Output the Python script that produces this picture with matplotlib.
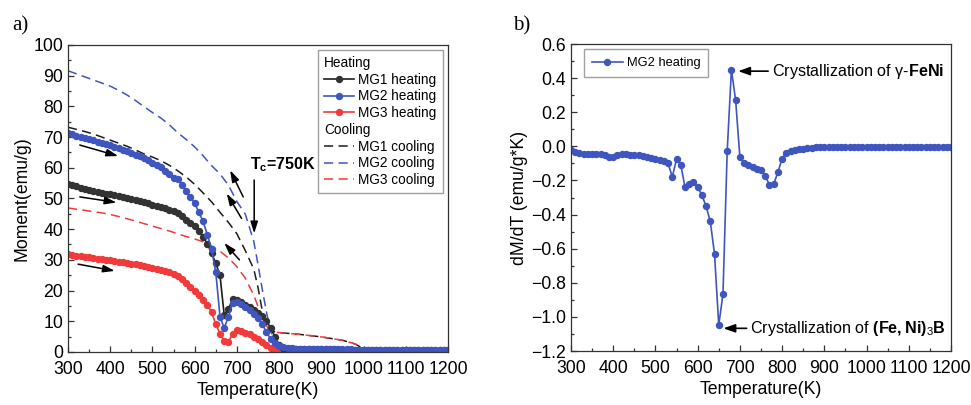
import matplotlib
matplotlib.use("Agg")
import matplotlib.pyplot as plt
from matplotlib.lines import Line2D
from matplotlib.ticker import MultipleLocator

plt.rcParams['font.family'] = ['Liberation Sans', 'DejaVu Sans']
plt.rcParams['mathtext.fontset'] = 'custom'
plt.rcParams['mathtext.rm'] = 'Liberation Sans'
plt.rcParams['mathtext.bf'] = 'Liberation Sans:bold'

# ---- data ----
# heating curves, 300..1200 K every 10 K
T_heat = list(range(300, 1201, 10))
mg1_heat = [54.8, 54.3, 53.9, 53.5, 53.1, 52.8, 52.5, 52.2, 51.9, 51.6,
            51.3, 51.0, 50.7, 50.4, 50.1, 49.8, 49.5, 49.2, 48.9, 48.5,
            48.0, 47.6, 47.2, 46.8, 46.3, 45.8, 45.2, 44.2, 43.1, 42.0,
            40.9, 39.4, 37.6, 35.2, 32.2, 28.9, 25.0, 12.0, 14.0, 17.2,
            17.0, 16.2, 15.4, 14.6, 13.8, 12.8, 11.6, 10.0, 7.8, 5.0,
            2.2, 1.4, 1.1, 1.0, 0.9, 0.9, 0.8, 0.8, 0.8, 0.8,
            0.8, 0.8, 0.8, 0.8, 0.7, 0.7, 0.7, 0.7, 0.7, 0.7,
            0.7, 0.7, 0.7, 0.7, 0.7, 0.7, 0.7, 0.6, 0.6, 0.6,
            0.6, 0.6, 0.6, 0.6, 0.6, 0.6, 0.6, 0.6, 0.6, 0.6, 0.6]
mg2_heat = [71.3, 70.9, 70.5, 70.1, 69.7, 69.3, 68.9, 68.5, 68.1, 67.7,
            67.3, 66.8, 66.3, 65.8, 65.3, 64.8, 64.3, 63.7, 63.1, 62.4,
            61.7, 61.0, 60.1, 59.1, 58.0, 56.6, 56.2, 54.5, 52.5, 50.5,
            48.5, 45.5, 42.5, 38.2, 33.5, 26.0, 11.5, 7.8, 11.5, 16.0,
            16.3, 15.5, 14.6, 13.6, 12.5, 11.0, 9.0, 6.5, 4.2, 2.8,
            2.0, 1.6, 1.4, 1.2, 1.1, 1.0, 0.9, 0.9, 0.9, 0.9,
            0.9, 0.8, 0.8, 0.8, 0.8, 0.8, 0.8, 0.8, 0.7, 0.7,
            0.7, 0.7, 0.7, 0.7, 0.7, 0.7, 0.7, 0.6, 0.6, 0.6,
            0.6, 0.6, 0.6, 0.6, 0.6, 0.6, 0.6, 0.6, 0.6, 0.6, 0.6]
mg3_heat = [31.8, 31.6, 31.4, 31.2, 31.0, 30.8, 30.6, 30.4, 30.2, 30.0,
            29.8, 29.6, 29.4, 29.2, 29.0, 28.8, 28.6, 28.3, 28.0, 27.7,
            27.4, 27.1, 26.7, 26.3, 25.9, 25.4, 24.6, 23.6, 22.5, 21.3,
            20.0, 18.6, 17.0, 15.2, 13.0, 9.0, 6.0, 3.5, 3.4, 5.8,
            7.1, 6.8, 6.3, 5.7, 5.0, 4.2, 3.3, 2.3, 1.4, 0.7,
            0.3, 0.2, 0.2, 0.2, 0.2, 0.2, 0.2, 0.2, 0.2, 0.2,
            0.2, 0.2, 0.2, 0.2, 0.2, 0.2, 0.2, 0.2, 0.2, 0.2,
            0.2, 0.2, 0.2, 0.2, 0.2, 0.2, 0.2, 0.2, 0.2, 0.2,
            0.2, 0.2, 0.2, 0.2, 0.2, 0.2, 0.2, 0.2, 0.2, 0.2, 0.2]

# cooling curves
T_cool = [300, 320, 340, 360, 380, 400, 420, 440, 460, 480, 500, 520, 540,
          560, 580, 600, 620, 640, 660, 680, 700, 720, 740, 750, 760, 770,
          780, 800, 850, 900, 950, 980, 1000, 1020, 1100, 1200]
mg1_cool = [73.2, 72.5, 71.8, 71.0, 70.0, 69.0, 68.0, 67.0, 65.8, 64.5,
            63.5, 62.3, 60.8, 59.0, 57.0, 54.6, 51.8, 48.9, 45.5, 42.2,
            38.5, 33.0, 27.0, 21.0, 13.5, 8.5, 6.8, 6.3, 5.7, 4.9,
            3.8, 2.6, 1.0, 0.4, 0.4, 0.4]
mg2_cool = [91.6, 90.6, 89.6, 88.6, 87.6, 86.6, 85.2, 83.7, 81.9, 79.9,
            78.0, 76.2, 74.0, 71.4, 69.2, 66.8, 63.9, 60.7, 58.0, 54.3,
            49.0, 44.9, 36.0, 28.5, 20.5, 13.0, 6.5, 2.3, 1.6, 1.1,
            0.8, 0.7, 0.5, 0.4, 0.3, 0.3]
mg3_cool = [46.9, 46.5, 46.1, 45.7, 45.3, 44.8, 44.1, 43.4, 42.6, 41.8,
            41.0, 40.2, 39.4, 38.5, 37.6, 36.8, 35.9, 34.5, 32.8, 30.6,
            27.8, 24.0, 18.5, 14.8, 11.5, 8.5, 6.8, 6.3, 5.7, 4.9,
            3.8, 2.6, 1.0, 0.3, 0.3, 0.3]

# dM/dT of MG2 heating, 300..1200 K every 10 K
T_der = list(range(300, 1201, 10))
mg2_dmdt = [-0.020, -0.035, -0.040, -0.042, -0.042, -0.043, -0.044, -0.045, -0.050, -0.065,
            -0.062, -0.050, -0.046, -0.046, -0.048, -0.052, -0.050, -0.058, -0.060, -0.068,
            -0.072, -0.078, -0.085, -0.100, -0.178, -0.076, -0.108, -0.238, -0.222, -0.207,
            -0.240, -0.285, -0.352, -0.440, -0.632, -1.048, -0.866, -0.030, 0.450, 0.270,
            -0.062, -0.100, -0.112, -0.120, -0.132, -0.140, -0.172, -0.226, -0.222, -0.152,
            -0.072, -0.040, -0.028, -0.020, -0.016, -0.013, -0.010, -0.008, -0.005, -0.004,
            -0.003, -0.003, -0.002, -0.002, -0.002, -0.002, -0.002, -0.002, -0.002, -0.002,
            -0.002, -0.002, -0.002, -0.002, -0.002, -0.002, -0.002, -0.002, -0.002, -0.002,
            -0.002, -0.002, -0.002, -0.002, -0.002, -0.002, -0.002, -0.002, -0.002, -0.002, -0.002]

BLACK = '#1c1c1c'
BLUE = '#3f55bf'
RED = '#f23a3a'
FS = 12.7


def style_axes(ax):
    ax.tick_params(which='both', direction='in', top=False, right=False,
                   labelsize=FS, width=0.9, color='#333333')
    ax.tick_params(which='major', length=4)
    ax.tick_params(which='minor', length=2.5)
    ax.tick_params(axis='x', pad=6.5)
    for s in ax.spines.values():
        s.set_linewidth(0.9)
        s.set_color('#333333')


def flush_headers(leg, names):
    # headers like "Heating" have no handle: pull their text to the left
    for col in leg._legend_handle_box.get_children():
        for item in col.get_children():
            hbox, tbox = item.get_children()
            if tbox.get_text() in names:
                hbox.width = 0
                item.sep = 0


fig = plt.figure(figsize=(9.71, 4.05), dpi=100)

# ---------------- a) ----------------
ax1 = fig.add_axes([0.070, 0.131, 0.3914, 0.758])
dash = (6, 3.5)
ax1.plot(T_cool, mg1_cool, color=BLACK, lw=1.1, dashes=dash, label='MG1 cooling')
ax1.plot(T_cool, mg2_cool, color=BLUE, lw=1.1, dashes=dash, label='MG2 cooling')
ax1.plot(T_cool, mg3_cool, color=RED, lw=1.1, dashes=dash, label='MG3 cooling')
ax1.plot(T_heat, mg3_heat, color=RED, lw=1.2, marker='o', ms=4.3, label='MG3 heating')
ax1.plot(T_heat, mg1_heat, color=BLACK, lw=1.2, marker='o', ms=4.3, label='MG1 heating',
         markerfacecolor='#333333', markeredgecolor='#333333')
ax1.plot(T_heat, mg2_heat, color=BLUE, lw=1.2, marker='o', ms=4.3, label='MG2 heating')

ax1.set_xlim(300, 1200)
ax1.set_ylim(0, 100)
ax1.xaxis.set_major_locator(MultipleLocator(100))
ax1.xaxis.set_minor_locator(MultipleLocator(50))
ax1.yaxis.set_major_locator(MultipleLocator(10))
ax1.yaxis.set_minor_locator(MultipleLocator(5))
style_axes(ax1)
ax1.set_xlabel('Temperature(K)', fontsize=FS, labelpad=3)
ax1.set_ylabel('Moment(emu/g)', fontsize=FS, labelpad=2)

h = {l.get_label(): l for l in ax1.get_lines()}
blank = Line2D([], [], linestyle='none')
handles = [blank, h['MG1 heating'], h['MG2 heating'], h['MG3 heating'],
           blank, h['MG1 cooling'], h['MG2 cooling'], h['MG3 cooling']]
labels = ['Heating', 'MG1 heating', 'MG2 heating', 'MG3 heating',
          'Cooling', 'MG1 cooling', 'MG2 cooling', 'MG3 cooling']
leg1 = ax1.legend(handles, labels, loc='upper right', bbox_to_anchor=(0.986, 0.984),
                  fontsize=9.8, frameon=True, fancybox=False, edgecolor='#888888',
                  handlelength=2.2, handletextpad=0.3, labelspacing=0.2,
                  borderpad=0.45, borderaxespad=0, numpoints=1)
leg1.get_frame().set_linewidth(1.0)
flush_headers(leg1, ['Heating', 'Cooling'])

arrow = dict(arrowstyle='-|>,head_length=0.7,head_width=0.22', color='black', lw=1.1,
             shrinkA=0, shrinkB=0)
for (x0, y0, x1, y1) in [(328, 67.4, 419, 63.8), (328, 50.5, 415, 48.7),
                         (324, 28.6, 411, 26.4), (715, 50.5, 684, 59.2),
                         (711, 43.5, 676, 51.6), (706, 30.0, 670, 35.5),
                         (741, 56.0, 741, 38.6)]:
    ax1.annotate('', xy=(x1, y1), xytext=(x0, y0), arrowprops=arrow)
ax1.text(731, 59.5, r'$\mathbf{T}_\mathbf{c}$=750K', fontsize=11.5, fontweight='bold')

fig.text(0.013, 0.925, 'a)', fontsize=15, family='Liberation Serif')

# ---------------- b) ----------------
ax2 = fig.add_axes([0.588, 0.1333, 0.3914, 0.758])
ax2.plot(T_der, mg2_dmdt, color=BLUE, lw=1.2, marker='o', ms=4.3, label='MG2 heating')
ax2.set_xlim(300, 1200)
ax2.set_ylim(-1.2, 0.6)
ax2.xaxis.set_major_locator(MultipleLocator(100))
ax2.xaxis.set_minor_locator(MultipleLocator(50))
ax2.yaxis.set_major_locator(MultipleLocator(0.2))
ax2.yaxis.set_minor_locator(MultipleLocator(0.1))
style_axes(ax2)
ax2.set_xlabel('Temperature(K)', fontsize=FS, labelpad=3)
ax2.set_ylabel('dM/dT (emu/g*K)', fontsize=FS, labelpad=2)
leg2 = ax2.legend(loc='upper left', bbox_to_anchor=(0.035, 0.983), fontsize=9.3,
                  frameon=True, fancybox=False, edgecolor='#888888', handlelength=2.4,
                  handletextpad=0.3, borderpad=0.6, borderaxespad=0, numpoints=1)
leg2.get_frame().set_linewidth(1.0)

arrow2 = dict(arrowstyle='-|>,head_length=0.7,head_width=0.25', color='black', lw=1.2,
              shrinkA=0, shrinkB=0)
ax2.annotate('', xy=(696, 0.441), xytext=(767, 0.441), arrowprops=arrow2)
ax2.text(775, 0.441, r'Crystallization of γ-$\mathbf{FeNi}$', fontsize=11.6, va='center')
ax2.annotate('', xy=(661, -1.067), xytext=(716, -1.067), arrowprops=arrow2)
ax2.text(725, -1.067, r'Crystallization of $\mathbf{(Fe,Ni)}_3\mathbf{B}$',
         fontsize=11.6, va='center')

fig.text(0.528, 0.925, 'b)', fontsize=15, family='Liberation Serif')

fig.savefig('out.png', dpi=100)
